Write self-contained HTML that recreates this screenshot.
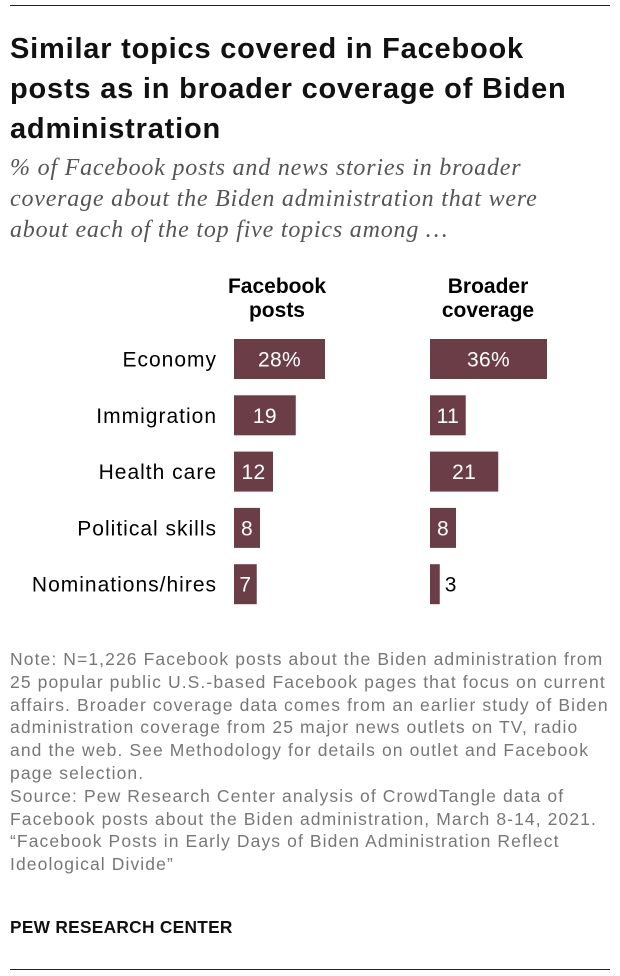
<!DOCTYPE html>
<html><head><meta charset="utf-8"><style>
body{margin:0;background:#fff;font-family:"Liberation Sans",sans-serif;}
#wrap{position:relative;width:620px;height:976px;overflow:hidden;}
.rule{position:absolute;left:10px;width:600px;height:1px;background:#222;}
#title{position:absolute;left:10px;top:29px;width:610px;font-size:29px;letter-spacing:0.8px;font-weight:bold;line-height:40px;color:#111;white-space:nowrap}
#sub{position:absolute;left:10px;top:153px;width:610px;font-family:"Liberation Serif",serif;font-style:italic;font-size:24px;letter-spacing:0.8px;line-height:31px;color:#555;white-space:nowrap}
.hdr{position:absolute;top:275px;width:140px;text-align:center;font-size:21px;font-weight:bold;line-height:24px;color:#000}
#note{position:absolute;left:10px;top:648px;width:620px;font-size:17.5px;letter-spacing:1.1px;line-height:22.8px;color:#777;white-space:nowrap}
#brand{position:absolute;left:10px;top:917px;font-size:17.3px;font-weight:bold;color:#111;letter-spacing:0.3px}
</style></head><body>
<div id="wrap">
<div class="rule" style="top:5px"></div>
<div id="title">Similar topics covered in Facebook<br>posts as in broader coverage of Biden<br>administration</div>
<div id="sub">% of Facebook posts and news stories in broader<br>coverage about the Biden administration that were<br>about each of the top five topics among …</div>
<div class="hdr" style="left:207px">Facebook<br>posts</div>
<div class="hdr" style="left:418px">Broader<br>coverage</div>
<svg id="plot" width="620" height="976" style="position:absolute;left:0;top:0"></svg>
<div id="note">Note: N=1,226 Facebook posts about the Biden administration from<br>25 popular public U.S.-based Facebook pages that focus on current<br>affairs. Broader coverage data comes from an earlier study of Biden<br>administration coverage from 25 major news outlets on TV, radio<br>and the web. See Methodology for details on outlet and Facebook<br>page selection.<br>Source: Pew Research Center analysis of CrowdTangle data of<br>Facebook posts about the Biden administration, March 8-14, 2021.<br>“Facebook Posts in Early Days of Biden Administration Reflect<br>Ideological Divide”</div>
<div id="brand">PEW RESEARCH CENTER</div>
<div class="rule" style="top:969px"></div>
</div>
<script>
const categories=["Economy","Immigration","Health care","Political skills","Nominations/hires"];
const facebookValues=[28,19,12,8,7];
const broaderValues=[36,11,21,8,3];
const facebookLabels=["28%","19","12","8","7"];
const broaderLabels=["36%","11","21","8","3"];
const NS="http://www.w3.org/2000/svg";
const svg=document.getElementById('plot');
const scaleX=v=>v*3.25;
const rowY=i=>339+i*56.3;
const barH=40;
function txt(x,y,s,anchor,fill,name,ls){
  const t=document.createElementNS(NS,'text');
  t.setAttribute('x',x);t.setAttribute('y',y);t.setAttribute('text-anchor',anchor);
  t.setAttribute('fill',fill);t.setAttribute('font-size','21');
  t.setAttribute('letter-spacing',ls);
  t.setAttribute('font-family','Liberation Sans, sans-serif');
  t.textContent=s;
  
  
  svg.appendChild(t);
}
function series(vals,labels,x0,key){
  vals.forEach((v,i)=>{
    const w=scaleX(v),y=rowY(i);
    const r=document.createElementNS(NS,'rect');
    r.setAttribute('x',x0);r.setAttribute('y',y);r.setAttribute('width',w);r.setAttribute('height',barH);
    r.setAttribute('fill','#6b3d47');
    
    
    svg.appendChild(r);
    if(w>20) txt(x0+w/2,y+barH/2+7.5,labels[i],'middle','#fff',key+'-value-'+i,'0.3');
    else txt(x0+w+5,y+barH/2+7.5,labels[i],'start','#000',key+'-value-'+i,'0.3');
  });
}
categories.forEach((c,i)=>txt(217,rowY(i)+barH/2+7.5,c,'end','#000','category-label-'+i,'1'));
series(facebookValues,facebookLabels,234,'facebook');
series(broaderValues,broaderLabels,430,'broader');
</script>
</body></html>
